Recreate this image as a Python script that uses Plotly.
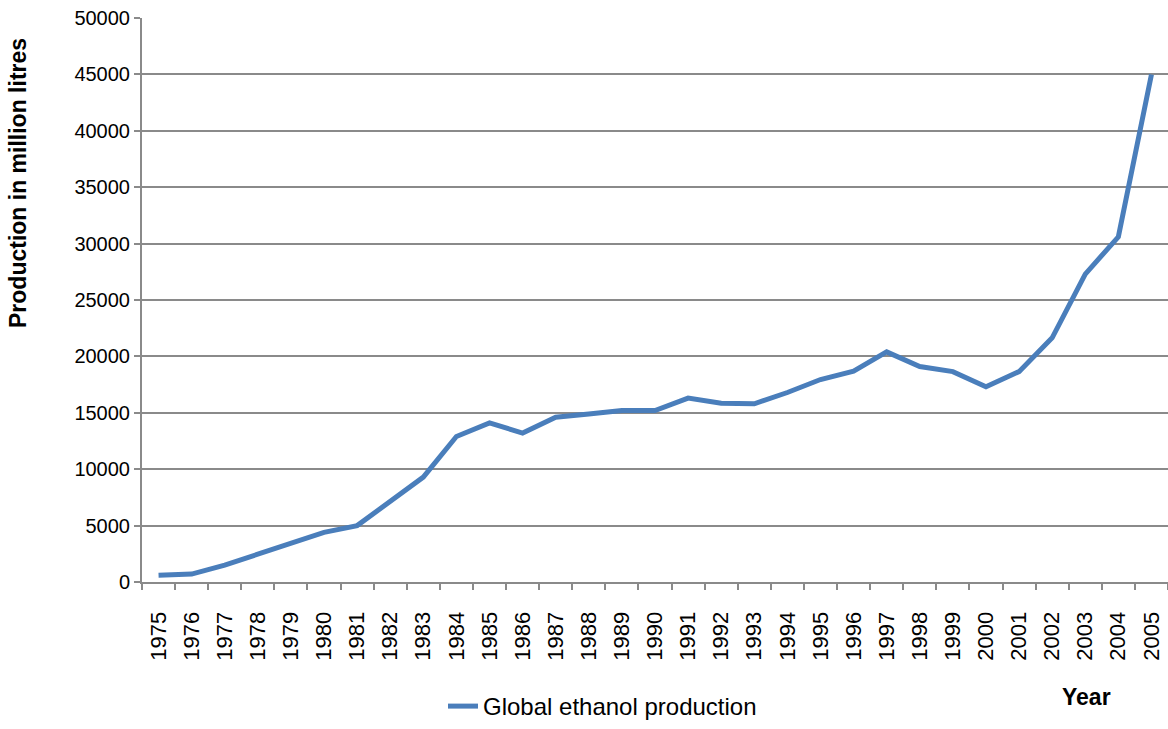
import plotly.graph_objects as go

years = [str(y) for y in range(1975, 2006)]
production = [600, 700, 1500, 2500, 3500, 4400, 5000, 7100, 9300, 12900,
              14100, 13200, 14600, 14900, 15200, 15200, 16300, 15850, 15800, 16800,
              17950, 18700, 20400, 19100, 18650, 17300, 18650, 21650, 27300, 30600,
              45000]
y_ticks = list(range(0, 50001, 5000))

grey = '#8a8a8a'
blue = '#4a7ebb'


def create_fig(x, y):
    """
    Line chart of global ethanol production
    """
    fig = go.Figure()
    fig.add_trace(
        go.Scatter(
            x=x,
            y=y,
            mode='lines',
            name='Global ethanol production',
            line=dict(color=blue, width=5),
        )
    )
    fig.update_layout(
        width=1168,
        height=729,
        margin=dict(l=142, r=0, t=18, b=147),
        plot_bgcolor='white',
        paper_bgcolor='white',
        font=dict(family='Liberation Sans, Arial, sans-serif', color='black'),
        showlegend=True,
        legend=dict(
            orientation='h',
            x=(443 - 142) / 1026, xanchor='left',
            y=(582 - 729) / 564, yanchor='bottom',
            font=dict(size=24),
            bgcolor='rgba(0,0,0,0)',
        ),
    )
    fig.update_xaxes(
        type='category',
        range=[-0.5, len(x) - 0.5],
        automargin=False,
        tickangle=-90,
        tickfont=dict(size=22),
        ticks='outside',
        tickson='boundaries',
        ticklen=6,
        tickcolor=grey,
        tickwidth=1.5,
        ticklabelstandoff=19,
        showline=True,
        linecolor=grey,
        linewidth=2,
        showgrid=False,
    )
    fig.update_yaxes(
        range=[0, 50000],
        automargin=False,
        tickvals=y_ticks,
        ticktext=[str(v) for v in y_ticks],
        tickfont=dict(size=20),
        ticks='outside',
        ticklen=6,
        tickcolor=grey,
        tickwidth=1.5,
        showline=True,
        linecolor=grey,
        linewidth=2,
        gridcolor=grey,
        gridwidth=1.5,
        zeroline=False,
    )
    fig.add_annotation(
        text='<b>Production in million litres</b>',
        xref='paper', yref='paper',
        x=-124 / 1026, y=(582 - 183) / 564,
        xanchor='center', yanchor='middle',
        textangle=-90,
        showarrow=False,
        font=dict(size=23),
    )
    fig.add_annotation(
        text='<b>Year</b>',
        xref='paper', yref='paper',
        x=(1086 - 142) / 1026, y=(582 - 697) / 564,
        xanchor='center', yanchor='middle',
        showarrow=False,
        font=dict(size=23),
    )
    return fig


fig = create_fig(years, production)
# drop the browser's default body margin so the figure sits at the window's corner
fig.write_html("out.html", config={'displayModeBar': False},
               post_script="document.body.style.margin='0';")
